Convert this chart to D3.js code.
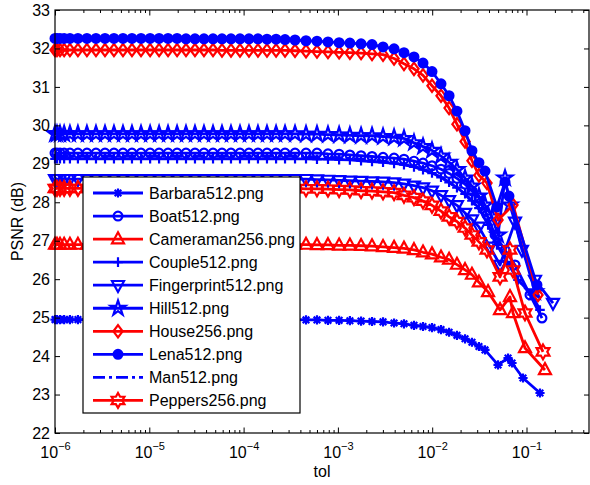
<!DOCTYPE html>
<html><head><meta charset="utf-8">
<script src="https://cdn.jsdelivr.net/npm/d3@7"></script>
<style>body{margin:0;background:#fff} svg{display:block} text{font-family:"Liberation Sans",Arial,Helvetica,sans-serif}</style>
</head><body><svg id="c" width="590" height="485"></svg>
<script>
// shared tol grid
const tolGrid = [1.00e-6,1.05e-6,1.13e-6,1.25e-6,1.44e-6,1.75e-6,2.18e-6,2.72e-6,3.39e-6,4.22e-6,
  5.26e-6,6.55e-6,8.17e-6,1.02e-5,1.27e-5,1.58e-5,1.97e-5,2.45e-5,3.05e-5,3.80e-5,
  4.74e-5,5.90e-5,7.35e-5,9.16e-5,1.14e-4,1.42e-4,1.77e-4,2.21e-4,2.75e-4,3.51e-4,
  4.59e-4,6.00e-4,7.85e-4,1.03e-3,1.34e-3,1.76e-3,2.30e-3,3.01e-3,3.94e-3,5.02e-3,
  6.41e-3,7.99e-3,9.95e-3,1.24e-2,1.51e-2,1.83e-2,2.23e-2,2.64e-2,3.13e-2];

const barbaraPsnr = [24.95,24.95,24.95,24.95,24.95,24.95,24.95,24.95,24.95,24.95,
  24.95,24.95,24.95,24.95,24.95,24.95,24.95,24.95,24.95,24.95,
  24.95,24.95,24.95,24.95,24.95,24.95,24.95,24.95,24.95,
  24.95,24.94,24.94,24.93,24.93,24.92,24.91,24.90,24.89,24.86,24.84,24.80,24.77,24.74,24.69,24.62,24.54,24.45,24.36,24.25];
const barbaraTailTol = [0.0363,0.0499,0.0637,0.0702,0.0918,0.1390];
const barbaraTailPsnr = [24.16,23.77,23.95,23.82,23.43,23.04];

const boatPsnr = [29.28,29.28,29.28,29.28,29.28,29.28,29.28,29.28,29.28,29.28,
  29.28,29.28,29.28,29.28,29.28,29.28,29.28,29.28,29.28,29.28,
  29.28,29.28,29.28,29.28,29.28,29.28,29.28,29.28,29.28,
  29.28,29.28,29.28,29.26,29.25,29.23,29.21,29.19,29.17,29.15,29.12,29.07,29.02,28.95,28.86,28.75,28.62,28.47,28.30,28.12];
const boatTailTol = [0.0381,0.0464,0.0592,0.0755,0.1089,0.1459];
const boatTailPsnr = [27.67,27.15,26.76,26.37,25.59,24.99];

const cameramanPsnr = [26.90,26.90,26.90,26.90,26.90,26.90,26.90,26.90,26.90,26.90,
  26.90,26.90,26.90,26.90,26.90,26.90,26.90,26.90,26.90,26.90,
  26.90,26.90,26.90,26.90,26.90,26.90,26.90,26.90,26.90,
  26.90,26.90,26.89,26.89,26.88,26.88,26.87,26.86,26.84,26.82,26.80,26.76,26.70,26.65,26.57,26.51,26.38,26.24,26.12,25.92];
const cameramanTailTol = [0.0391,0.0524,0.0668,0.0719,0.0964,0.1570];
const cameramanTailPsnr = [25.67,25.20,25.54,25.12,24.21,23.64];

const couplePsnr = [29.13,29.13,29.13,29.13,29.13,29.13,29.13,29.13,29.13,29.13,
  29.13,29.13,29.13,29.13,29.13,29.13,29.13,29.13,29.13,29.13,
  29.13,29.13,29.13,29.13,29.13,29.13,29.13,29.13,29.13,
  29.13,29.13,29.12,29.12,29.11,29.10,29.08,29.06,29.04,29.01,28.98,28.92,28.85,28.76,28.65,28.52,28.38,28.22,28.04,27.85];
const coupleTailTol = [0.0391,0.0486,0.0621,0.0813,0.1143,0.1390];
const coupleTailPsnr = [27.41,26.89,26.45,25.98,25.60,25.20];

const fingerprintPsnr = [28.60,28.60,28.60,28.60,28.60,28.60,28.60,28.60,28.60,28.60,
  28.60,28.60,28.60,28.60,28.60,28.60,28.60,28.60,28.60,28.60,
  28.60,28.60,28.60,28.60,28.60,28.60,28.60,28.60,28.60,
  28.60,28.60,28.59,28.58,28.57,28.56,28.55,28.54,28.53,28.51,28.48,28.43,28.38,28.30,28.18,28.05,27.92,27.72,27.55,27.36];
const fingerprintTailTol = [0.0410,0.0524,0.0755,0.0895,0.1230,0.1910];
const fingerprintTailPsnr = [26.84,26.37,27.49,26.76,25.98,25.38];

const hillPsnr = [29.78,29.78,29.78,29.78,29.78,29.78,29.78,29.78,29.78,29.78,
  29.78,29.78,29.78,29.78,29.78,29.78,29.78,29.78,29.78,29.78,
  29.78,29.78,29.78,29.78,29.78,29.78,29.78,29.78,29.78,
  29.78,29.77,29.77,29.76,29.75,29.74,29.73,29.73,29.71,29.69,29.66,29.55,29.45,29.35,29.20,29.04,28.85,28.63,28.42,28.16];
const hillTailTol = [0.0363,0.0431,0.0499,0.0592,0.0668,0.1230];
const hillTailPsnr = [27.93,27.62,27.15,28.63,27.93,25.67];

const housePsnr = [31.96,31.96,31.96,31.96,31.96,31.96,31.96,31.96,31.96,31.96,
  31.96,31.96,31.96,31.96,31.96,31.96,31.96,31.96,31.96,31.96,
  31.96,31.95,31.95,31.95,31.95,31.95,31.95,31.95,31.95,
  31.94,31.93,31.92,31.91,31.90,31.89,31.88,31.86,31.84,31.74,31.60,31.47,31.30,31.03,30.77,30.45,30.03,29.58,29.08,28.70];
const houseTailTol = [0.0381,0.0499,0.0719,0.1324];
const houseTailPsnr = [28.50,27.54,27.93,25.59];

const lenaPsnr = [32.26,32.26,32.26,32.26,32.26,32.26,32.26,32.26,32.26,32.26,
  32.26,32.26,32.26,32.26,32.26,32.26,32.26,32.25,32.25,32.25,
  32.25,32.25,32.25,32.25,32.25,32.25,32.24,32.24,32.23,
  32.22,32.20,32.19,32.17,32.15,32.14,32.12,32.10,32.04,31.99,31.89,31.78,31.62,31.40,31.08,30.77,30.37,29.86,29.34,29.03];
const lenaTailTol = [0.0363,0.0486,0.0592,0.0652,0.1291];
const lenaTailPsnr = [28.81,27.88,28.53,28.16,25.85];

const manPsnr = [29.20,29.20,29.20,29.20,29.20,29.20,29.20,29.20,29.20,29.20,
  29.20,29.20,29.20,29.20,29.20,29.20,29.20,29.20,29.20,29.20,
  29.20,29.20,29.20,29.20,29.20,29.20,29.20,29.20,29.20,
  29.20,29.19,29.18,29.17,29.16,29.14,29.12,29.10,29.07,29.03,28.98,28.92,28.85,28.76,28.65,28.52,28.37,28.20,28.02,27.82];
const manTailTol = [0.0391,0.0486,0.0621,0.0813,0.1230];
const manTailPsnr = [27.50,27.00,26.50,26.00,25.46];

const peppersPsnr = [28.36,28.36,28.36,28.36,28.36,28.36,28.36,28.36,28.36,28.36,
  28.36,28.36,28.36,28.36,28.36,28.36,28.36,28.36,28.36,28.36,
  28.36,28.36,28.36,28.36,28.36,28.36,28.36,28.36,28.36,
  28.36,28.35,28.35,28.34,28.33,28.32,28.30,28.29,28.27,28.25,28.18,28.12,28.03,27.92,27.77,27.62,27.50,27.33,27.15,26.97];
const peppersTailTol = [0.0381,0.0524,0.0668,0.0719,0.0964,0.1496];
const peppersTailPsnr = [26.76,26.06,26.76,26.24,25.12,24.11];

const seriesNames = ["Barbara512.png","Boat512.png","Cameraman256.png","Couple512.png","Fingerprint512.png",
  "Hill512.png","House256.png","Lena512.png","Man512.png","Peppers256.png"];
const seriesColors = ["#0000ff","#0000ff","#ff0000","#0000ff","#0000ff","#0000ff","#ff0000","#0000ff","#0000ff","#ff0000"];
const seriesMarkers = ["asterisk","circle","triUp","plus","triDown","star","diamond","dot","none","hexagram"];
const yTicks = [22,23,24,25,26,27,28,29,30,31,32,33];
const xTicks = [1e-6,1e-5,1e-4,1e-3,1e-2,1e-1];
const xTickExp = ["\u22126","\u22125","\u22124","\u22123","\u22122","\u22121"];

const grids = [barbaraPsnr,boatPsnr,cameramanPsnr,couplePsnr,fingerprintPsnr,hillPsnr,housePsnr,lenaPsnr,manPsnr,peppersPsnr];
const tailT = [barbaraTailTol,boatTailTol,cameramanTailTol,coupleTailTol,fingerprintTailTol,hillTailTol,houseTailTol,lenaTailTol,manTailTol,peppersTailTol];
const tailP = [barbaraTailPsnr,boatTailPsnr,cameramanTailPsnr,coupleTailPsnr,fingerprintTailPsnr,hillTailPsnr,houseTailPsnr,lenaTailPsnr,manTailPsnr,peppersTailPsnr];

const series = seriesNames.map((name,i)=>({
  name, color: seriesColors[i], marker: seriesMarkers[i],
  pts: tolGrid.map((t,j)=>[t,grids[i][j]]).concat(tailT[i].map((t,j)=>[t,tailP[i][j]]))
}));

const L=55,R=589,T=10,B=433;
const x = d3.scaleLog().domain([1e-6,0.46]).range([L,R]);
const y = d3.scaleLinear().domain([22,33]).range([B,T]);
const svg = d3.select("#c");

function markerPath(type){
  const p = d3.path();
  if(type==="circle"||type==="dot"){ const r=4.4; p.moveTo(r,0); p.arc(0,0,r,0,2*Math.PI); p.closePath(); }
  else if(type==="triUp"){ p.moveTo(0,-6.8); p.lineTo(6,4.2); p.lineTo(-6,4.2); p.closePath(); }
  else if(type==="triDown"){ p.moveTo(0,6.8); p.lineTo(6,-4.2); p.lineTo(-6,-4.2); p.closePath(); }
  else if(type==="diamond"){ p.moveTo(0,-6.2); p.lineTo(4.6,0); p.lineTo(0,6.2); p.lineTo(-4.6,0); p.closePath(); }
  else if(type==="plus"){ p.moveTo(-4.8,0); p.lineTo(4.8,0); p.moveTo(0,-4.8); p.lineTo(0,4.8); }
  else if(type==="asterisk"){ const a=4.6,b=3.3; p.moveTo(-a,0); p.lineTo(a,0); p.moveTo(0,-a); p.lineTo(0,a);
    p.moveTo(-b,-b); p.lineTo(b,b); p.moveTo(-b,b); p.lineTo(b,-b); }
  else if(type==="star"){ const Ro=7.8, Ri=Ro*0.382; for(let k=0;k<10;k++){ const r=k%2?Ri:Ro; const ang=-Math.PI/2+k*Math.PI/5;
      const px=r*Math.cos(ang), py=r*Math.sin(ang); k?p.lineTo(px,py):p.moveTo(px,py);} p.closePath(); }
  else if(type==="hexagram"){ const Ro=7.4, Ri=Ro/Math.sqrt(3); for(let k=0;k<12;k++){ const r=k%2?Ri:Ro; const ang=-Math.PI/2+k*Math.PI/6;
      const px=r*Math.cos(ang), py=r*Math.sin(ang); k?p.lineTo(px,py):p.moveTo(px,py);} p.closePath(); }
  return p.toString();
}

const line = d3.line().x(d=>x(d[0])).y(d=>y(d[1]));
const plot = svg.append("g");
series.forEach(s=>{
  const g = plot.append("g");
  g.append("path").attr("d",line(s.pts)).attr("fill","none").attr("stroke",s.color)
    .attr("stroke-width",2.8).attr("stroke-linejoin","round")
    .attr("stroke-dasharray", s.marker==="none" ? "12,4,3,4" : null);
  if(s.marker!=="none"){
    const d = markerPath(s.marker);
    g.selectAll("path.m").data(s.pts).join("path").attr("class","m")
      .attr("transform",p=>`translate(${x(p[0])},${y(p[1])})`).attr("d",d)
      .attr("fill", s.marker==="dot" ? s.color : "none")
      .attr("stroke",s.color).attr("stroke-width",2.2).attr("stroke-linejoin","miter");
  }
});

// axes
const axG = svg.append("g").attr("font-size",16);
const yl = axG.append("g").attr("transform",`translate(${L},0)`)
  .call(d3.axisLeft(y).tickValues(yTicks).tickFormat(d3.format("d")).tickSizeInner(-5).tickSizeOuter(0).tickPadding(5));
const yr = axG.append("g").attr("transform",`translate(${R},0)`)
  .call(d3.axisRight(y).tickValues(yTicks).tickFormat("").tickSizeInner(-5).tickSizeOuter(0));
const minor = [];
for(let e=-6;e<=-1;e++) for(let m=2;m<=9;m++){ const v=m*Math.pow(10,e); if(v<=0.46) minor.push(v); }
axG.append("g").attr("transform",`translate(0,${B})`).call(d3.axisBottom(x).tickValues(minor).tickFormat("").tickSizeInner(-3).tickSizeOuter(0));
axG.append("g").attr("transform",`translate(0,${T})`).call(d3.axisTop(x).tickValues(minor).tickFormat("").tickSizeInner(-3).tickSizeOuter(0));
axG.append("g").attr("transform",`translate(0,${T})`).call(d3.axisTop(x).tickValues(xTicks).tickFormat("").tickSizeInner(-5.5).tickSizeOuter(0));
const xb = axG.append("g").attr("transform",`translate(0,${B})`)
  .call(d3.axisBottom(x).tickValues(xTicks).tickFormat("").tickSizeInner(-5.5).tickSizeOuter(0));
xb.selectAll(".tick").each(function(d,i){
  const t = d3.select(this).append("text").attr("fill","#000").attr("y",25).attr("text-anchor","middle").attr("font-size",16);
  t.append("tspan").text("10");
  t.append("tspan").attr("dy",-8).attr("font-size",11).text(xTickExp[i]);
});
axG.selectAll(".domain").remove();
axG.selectAll(".tick line").attr("stroke","#000").attr("stroke-width",1);
axG.selectAll("text").attr("fill","#000");
yl.selectAll(".tick text").attr("font-size",16);
svg.append("rect").attr("x",L).attr("y",T).attr("width",R-L).attr("height",B-T)
  .attr("fill","none").attr("stroke","#000").attr("stroke-width",1.2);

svg.append("text").attr("x",(L+R)/2).attr("y",477).attr("text-anchor","middle").attr("font-size",16).text("tol");
svg.append("text").attr("transform",`translate(23,${(T+B)/2}) rotate(-90)`).attr("text-anchor","middle").attr("font-size",16).text("PSNR (dB)");

// legend
const lg = svg.append("g");
lg.append("rect").attr("x",83).attr("y",177).attr("width",217).attr("height",236)
  .attr("fill","#fff").attr("stroke","#000").attr("stroke-width",1.2);
series.forEach((s,i)=>{
  const yy = 193 + i*23.05;
  lg.append("line").attr("x1",93).attr("x2",143).attr("y1",yy).attr("y2",yy)
    .attr("stroke",s.color).attr("stroke-width",2.8)
    .attr("stroke-dasharray", s.marker==="none" ? "12,4,3,4" : null);
  if(s.marker!=="none"){
    lg.append("path").attr("transform",`translate(118,${yy})`).attr("d",markerPath(s.marker))
      .attr("fill", s.marker==="dot" ? s.color : "none").attr("stroke",s.color).attr("stroke-width",2.2);
  }
  lg.append("text").attr("x",149).attr("y",yy).attr("dy","0.36em").attr("font-size",16).text(s.name);
});
</script></body></html>
